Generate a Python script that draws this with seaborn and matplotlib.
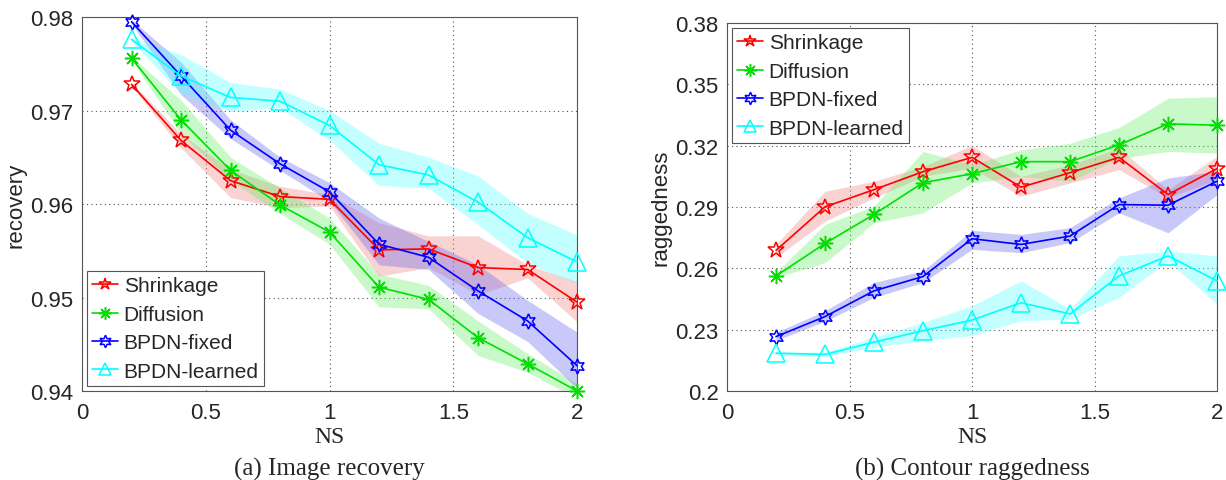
import numpy as np
import pandas as pd
import seaborn as sns
import matplotlib
matplotlib.use("Agg")
import matplotlib.pyplot as plt
from matplotlib import font_manager

ns = [0.2, 0.4, 0.6, 0.8, 1.0, 1.2, 1.4, 1.6, 1.8, 2.0]
methods = ["Shrinkage", "Diffusion", "BPDN-fixed", "BPDN-learned"]

# (a) Image recovery
rec_shrink = [0.9728, 0.9668, 0.9625, 0.9608, 0.9605, 0.9551, 0.9552, 0.9532, 0.9530, 0.9495]
rec_shrink_hi = [0.9730, 0.9675, 0.9637, 0.9619, 0.9610, 0.9580, 0.9566, 0.9566, 0.9535, 0.9517]
rec_shrink_lo = [0.9726, 0.9660, 0.9607, 0.9596, 0.9598, 0.9523, 0.9532, 0.9503, 0.9521, 0.9474]
rec_diff = [0.9756, 0.9690, 0.9636, 0.9599, 0.9570, 0.9511, 0.9498, 0.9457, 0.9429, 0.9400]
rec_diff_hi = [0.9758, 0.9711, 0.9650, 0.9617, 0.9585, 0.9525, 0.9513, 0.9475, 0.9440, 0.9408]
rec_diff_lo = [0.9754, 0.9675, 0.9625, 0.9590, 0.9557, 0.9490, 0.9488, 0.9438, 0.9420, 0.9392]
rec_fixed = [0.9795, 0.9737, 0.9679, 0.9643, 0.9613, 0.9557, 0.9543, 0.9507, 0.9475, 0.9427]
rec_fixed_hi = [0.9797, 0.9752, 0.9690, 0.9650, 0.9623, 0.9585, 0.9560, 0.9535, 0.9497, 0.9463]
rec_fixed_lo = [0.9793, 0.9717, 0.9670, 0.9636, 0.9603, 0.9535, 0.9530, 0.9483, 0.9453, 0.9403]
rec_learn = [0.9776, 0.9737, 0.9714, 0.9710, 0.9684, 0.9642, 0.9631, 0.9602, 0.9564, 0.9538]
rec_learn_hi = [0.9778, 0.9760, 0.9730, 0.9723, 0.9700, 0.9665, 0.9650, 0.9630, 0.9590, 0.9567]
rec_learn_lo = [0.9774, 0.9718, 0.9699, 0.9703, 0.9668, 0.9620, 0.9617, 0.9578, 0.9537, 0.9515]

# (b) Contour raggedness
rag_shrink = [0.2688, 0.2901, 0.2985, 0.3073, 0.3143, 0.2997, 0.3068, 0.3143, 0.2961, 0.3088]
rag_shrink_hi = [0.2717, 0.2977, 0.3026, 0.3099, 0.3201, 0.3050, 0.3107, 0.3188, 0.2985, 0.3148]
rag_shrink_lo = [0.2653, 0.2831, 0.2945, 0.3050, 0.3091, 0.2953, 0.3018, 0.3083, 0.2945, 0.3034]
rag_diff = [0.2563, 0.2722, 0.2864, 0.3019, 0.3063, 0.3122, 0.3122, 0.3204, 0.3307, 0.3300]
rag_diff_hi = [0.2580, 0.2815, 0.2904, 0.3172, 0.3107, 0.3180, 0.3212, 0.3289, 0.3432, 0.3440]
rag_diff_lo = [0.2555, 0.2628, 0.2823, 0.2872, 0.3018, 0.3050, 0.3026, 0.3139, 0.3172, 0.3164]
rag_fixed = [0.2266, 0.2364, 0.2490, 0.2560, 0.2745, 0.2717, 0.2758, 0.2912, 0.2909, 0.3026]
rag_fixed_hi = [0.2287, 0.2393, 0.2531, 0.2588, 0.2786, 0.2766, 0.2799, 0.2945, 0.3042, 0.3075]
rag_fixed_lo = [0.2247, 0.2341, 0.2458, 0.2531, 0.2693, 0.2677, 0.2726, 0.2872, 0.2774, 0.2961]
rag_learn = [0.2185, 0.2179, 0.2239, 0.2295, 0.2347, 0.2432, 0.2377, 0.2563, 0.2661, 0.2539]
rag_learn_hi = [0.2190, 0.2190, 0.2263, 0.2336, 0.2417, 0.2539, 0.2401, 0.2661, 0.2685, 0.2661]
rag_learn_lo = [0.2174, 0.2169, 0.2214, 0.2247, 0.2271, 0.2344, 0.2352, 0.2458, 0.2636, 0.2425]

x_ticks = [0, 0.5, 1, 1.5, 2]
x_tick_labels = ["0", "0.5", "1", "1.5", "2"]
rec_ticks = [0.94, 0.95, 0.96, 0.97, 0.98]
rec_tick_labels = ["0.94", "0.95", "0.96", "0.97", "0.98"]
rag_ticks = [0.20, 0.23, 0.26, 0.29, 0.32, 0.35, 0.38]
rag_tick_labels = ["0.2", "0.23", "0.26", "0.29", "0.32", "0.35", "0.38"]

sns.set_theme(style="white")
available = {f.name for f in font_manager.fontManager.ttflist}
sans = "Liberation Sans Narrow" if "Liberation Sans Narrow" in available else "Liberation Sans"
narrow = sans == "Liberation Sans Narrow"
plt.rcParams["font.family"] = [sans, "DejaVu Sans"]
serif = ["Liberation Serif", "DejaVu Serif"]

tick_fs = 19 if narrow else 16
leg_fs = 18 if narrow else 15

colors = {"Shrinkage": "#ff0000", "Diffusion": "#00e000", "BPDN-fixed": "#0000ff", "BPDN-learned": "#00ffff"}
fills = {"Shrinkage": "#f08080", "Diffusion": "#66ee66", "BPDN-fixed": "#6666ee", "BPDN-learned": "#55ffff"}
markers = {"Shrinkage": "*", "Diffusion": (8, 2, 0), "BPDN-fixed": (6, 1, 0), "BPDN-learned": "^"}
msizes = {"Shrinkage": 12, "Diffusion": 11, "BPDN-fixed": 11, "BPDN-learned": 13}

fig = plt.figure(figsize=(12.26, 4.81), dpi=100)
ax1 = fig.add_axes([0.0669, 0.185, 0.4038, 0.7775])
ax2 = fig.add_axes([0.593, 0.185, 0.3997, 0.765])

def draw(ax, data):
    for m, (y, hi, lo) in zip(methods, data):
        ax.fill_between(ns, lo, hi, color=fills[m], alpha=0.35, linewidth=0, zorder=1)
    for m, (y, hi, lo) in zip(methods, data):
        df = pd.DataFrame({"NS": ns, "v": y})
        sns.lineplot(data=df, x="NS", y="v", ax=ax, color=colors[m], marker=markers[m],
                     markersize=msizes[m], markerfacecolor="none", markeredgecolor=colors[m],
                     markeredgewidth=1.1, linewidth=1.2, label=m, zorder=3, clip_on=False)

draw(ax1, [(rec_shrink, rec_shrink_hi, rec_shrink_lo), (rec_diff, rec_diff_hi, rec_diff_lo),
           (rec_fixed, rec_fixed_hi, rec_fixed_lo), (rec_learn, rec_learn_hi, rec_learn_lo)])
draw(ax2, [(rag_shrink, rag_shrink_hi, rag_shrink_lo), (rag_diff, rag_diff_hi, rag_diff_lo),
           (rag_fixed, rag_fixed_hi, rag_fixed_lo), (rag_learn, rag_learn_hi, rag_learn_lo)])

for ax, yt, ytl, ylim, ylab in [(ax1, rec_ticks, rec_tick_labels, (0.94, 0.98), "recovery"),
                                (ax2, rag_ticks, rag_tick_labels, (0.20, 0.38), "raggedness")]:
    ax.set_xlim(0, 2)
    ax.set_ylim(*ylim)
    ax.set_xticks(x_ticks)
    ax.set_xticklabels(x_tick_labels, fontsize=tick_fs)
    ax.set_yticks(yt)
    ax.set_yticklabels(ytl, fontsize=tick_fs)
    ax.grid(True, linestyle=(0, (1, 3)), color="#555555", linewidth=0.8)
    ax.tick_params(axis="x", direction="in", length=5, color="#555555", pad=8)
    ax.tick_params(axis="y", direction="in", length=5, color="#555555", pad=6)
    for s in ax.spines.values():
        s.set_color("#555555")
        s.set_linewidth(0.8)
    ax.set_xlabel("NS", fontsize=17, family=serif, labelpad=2)
    ax.set_ylabel(ylab, fontsize=tick_fs, labelpad=3)

leg_kw = dict(fontsize=leg_fs, frameon=True, fancybox=False, borderpad=0.25,
              handlelength=1.25, handletextpad=0.25, labelspacing=0.45, borderaxespad=0.25)
leg1 = ax1.legend(loc="lower left", **leg_kw)
leg2 = ax2.legend(loc="upper left", **leg_kw)
for leg in (leg1, leg2):
    leg.get_frame().set_edgecolor("#555555")
    leg.get_frame().set_linewidth(0.8)
    leg.get_frame().set_alpha(1)
    for h in leg.get_lines():
        h.set_markersize(9)

fig.text(0.2688, 0.012, "(a) Image recovery", ha="center", fontsize=18, family=serif)
fig.text(0.7928, 0.012, "(b) Contour raggedness", ha="center", fontsize=18, family=serif)

fig.savefig("out.png", dpi=100)
